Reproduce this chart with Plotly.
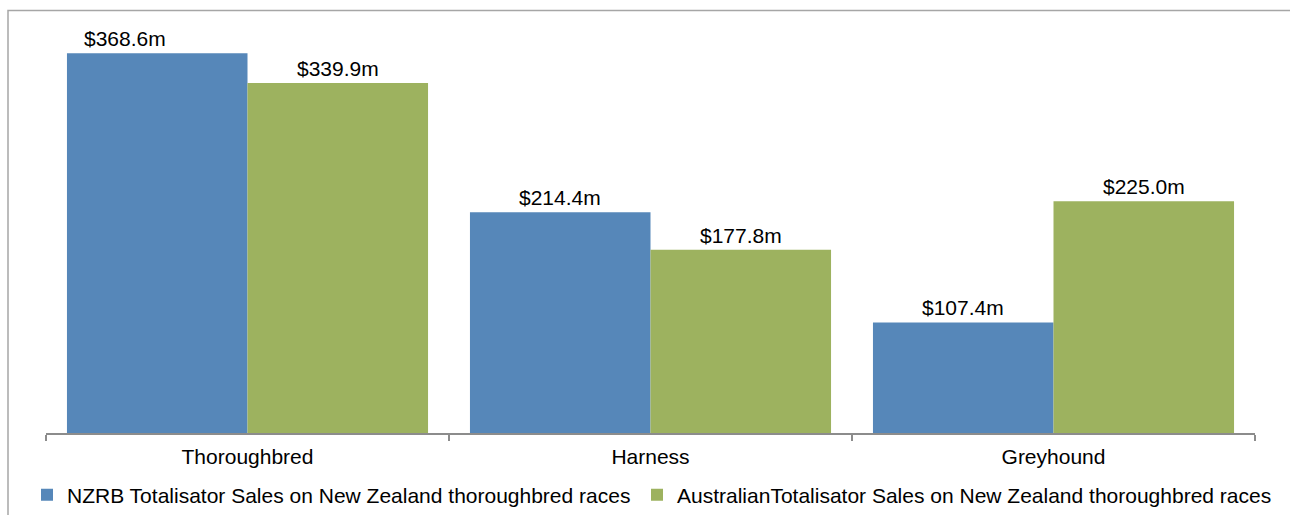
import plotly.graph_objects as go

# Racing codes and totalisator sales (NZ$ millions)
categories = ["Thoroughbred", "Harness", "Greyhound"]
nzrb_sales = [368.6, 214.4, 107.4]
aus_sales = [339.9, 177.8, 225.0]
series_names = [
    "NZRB Totalisator Sales on New Zealand thoroughbred races",
    "AustralianTotalisator Sales on New Zealand thoroughbred races",
]

BLUE = "#5687b9"
GREEN = "#9db25f"
FONT = "Liberation Sans, Arial, sans-serif"

W, H = 1290, 515
ML, MR, MT, MB = 46, 35, 21, 82
plot_w = W - ML - MR
plot_h = H - MT - MB
BARGAP = 0.104
half_offset = (1 - BARGAP) / 4  # centre of each bar relative to its category

fig = go.Figure()
series = [
    (series_names[0], nzrb_sales, BLUE, "legend", -half_offset),
    (series_names[1], aus_sales, GREEN, "legend2", half_offset),
]
for name, vals, col, leg, off in series:
    fig.add_trace(go.Bar(
        x=categories,
        y=vals,
        name=name,
        legend=leg,
        marker=dict(color=col, line=dict(width=0)),
        hovertemplate="%{x}: $%{y:.1f}m<extra></extra>",
    ))
    # value labels above each bar
    for i, v in enumerate(vals):
        shift = -32 if (leg == "legend" and i == 0) else 0
        fig.add_annotation(
            x=i + off, y=v, xref="x", yref="y",
            text=f"${v:.1f}m",
            showarrow=False,
            yanchor="bottom", xanchor="center",
            xshift=shift, yshift=1,
            font=dict(size=21, color="#000000", family=FONT),
        )

# Outer chart frame (its right and bottom edges run past the page)
fig.add_shape(
    type="rect", xref="paper", yref="paper",
    x0=(8 - ML) / plot_w, x1=(W + 20 - ML) / plot_w,
    y0=(MT + plot_h - (H + 20)) / plot_h, y1=(MT + plot_h - 10.5) / plot_h,
    line=dict(color="#a6a6a6", width=1.5),
    fillcolor="rgba(0,0,0,0)",
    layer="below",
)

legend_common = dict(
    orientation="h",
    xref="container", yref="container",
    xanchor="left",
    y=1 - 495 / H, yanchor="middle",
    font=dict(size=21, color="#000000", family=FONT),
    bgcolor="rgba(0,0,0,0)",
    itemclick=False,
)

fig.update_layout(
    width=W, height=H,
    margin=dict(l=ML, r=MR, t=MT, b=MB, autoexpand=False),
    paper_bgcolor="white",
    plot_bgcolor="white",
    barmode="group",
    bargap=BARGAP,
    bargroupgap=0,
    font=dict(family=FONT, size=21, color="#000000"),
    showlegend=True,
    legend=dict(x=27 / W, **legend_common),
    legend2=dict(x=637 / W, **legend_common),
    xaxis=dict(
        type="category",
        tickson="boundaries",
        ticks="outside",
        ticklen=6,
        tickwidth=1.5,
        tickcolor="#8c8c8c",
        showline=True,
        linecolor="#8c8c8c",
        linewidth=1.5,
        showgrid=False,
        ticklabelstandoff=4,
        tickfont=dict(size=21, color="#000000", family=FONT),
        fixedrange=True,
    ),
    yaxis=dict(
        range=[0, 400],
        visible=False,
        showgrid=False,
        zeroline=False,
        fixedrange=True,
    ),
)

fig.write_html("out.html")
